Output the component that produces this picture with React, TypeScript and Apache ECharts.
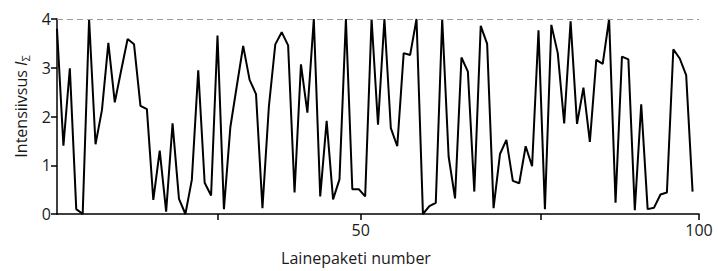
import React, { useEffect, useRef } from "react";
import * as echarts from "echarts";

// Intensity per wave packet (packet 1..100)
const intensity: number[] = [
  3.8, 1.4, 2.99, 0.1, 0.0, 4.0, 1.43, 2.13, 3.51, 2.29,
  2.95, 3.59, 3.48, 2.22, 2.15, 0.29, 1.3, 0.05, 1.86, 0.31,
  0.0, 0.7, 2.95, 0.64, 0.38, 3.66, 0.1, 1.78, 2.62, 3.45,
  2.75, 2.46, 0.12, 2.2, 3.48, 3.73, 3.46, 0.44, 3.07, 2.08,
  4.0, 0.36, 1.91, 0.3, 0.71, 4.0, 0.51, 0.51, 0.36, 4.0,
  1.83, 4.0, 1.76, 1.39, 3.3, 3.26, 4.0, 0.0, 0.16, 0.23,
  4.0, 1.18, 0.32, 3.21, 2.92, 0.46, 3.86, 3.49, 0.12, 1.23,
  1.52, 0.68, 0.63, 1.39, 0.98, 3.77, 0.1, 3.88, 3.3, 1.86,
  3.95, 1.85, 2.59, 1.48, 3.16, 3.08, 4.0, 0.23, 3.23, 3.17,
  0.08, 2.25, 0.1, 0.13, 0.4, 0.44, 3.38, 3.19, 2.85, 0.46,
];

// x-axis tick positions (axis units) and their printed labels
const xTickValues: number[] = [25, 47.3, 75.3, 100];
const xLabelValues: number[] = [47.3, 100];
const xLabelTexts: string[] = ["50", "100"];
const yTicks: number[] = [0, 1, 2, 3, 4];

const FONT = "'Open Sans', sans-serif";

export default function App() {
  const ref = useRef<HTMLDivElement>(null);
  useEffect(() => {
    if (!ref.current) return;
    document.body.style.margin = "0";
    const chart = echarts.init(ref.current, null, { renderer: "svg" });
    const data = intensity.map((v, i) => [i, v]);
    chart.setOption({
      animation: false,
      grid: { left: 57, right: 19, top: 19, bottom: 57 },
      xAxis: {
        type: "value",
        min: 0,
        max: 100,
        name: "Lainepaketi number",
        nameLocation: "middle",
        nameGap: 36,
        nameTextStyle: {
          fontFamily: FONT,
          fontSize: 16,
          color: "#1a1a1a",
          padding: [0, 44, 0, 0],
        },
        axisLine: { show: true, lineStyle: { color: "#000", width: 1.5 } },
        axisTick: {
          show: true,
          length: 6,
          customValues: xTickValues,
          lineStyle: { color: "#000", width: 1.5 },
        },
        axisLabel: {
          customValues: xLabelValues,
          margin: 8,
          fontFamily: FONT,
          fontSize: 16,
          color: "#1a1a1a",
          formatter: (v: number) => {
            const k = xLabelValues.findIndex((x) => Math.abs(x - v) < 0.01);
            return k >= 0 ? xLabelTexts[k] : "";
          },
        },
        splitLine: { show: false },
      },
      yAxis: {
        type: "value",
        min: 0,
        max: 4,
        interval: 1,
        name: "Intensiivsus {i|I}{s|Σ}",
        nameLocation: "middle",
        nameGap: 25,
        nameRotate: 90,
        nameTextStyle: {
          fontFamily: FONT,
          fontSize: 16,
          color: "#1a1a1a",
          padding: [0, 0, 0, 20],
          rich: {
            i: { fontFamily: FONT, fontSize: 16, fontStyle: "italic", color: "#1a1a1a" },
            s: { fontFamily: FONT, fontSize: 11, color: "#1a1a1a", padding: [8, 0, 0, 0] },
          },
        },
        axisLine: { show: true, lineStyle: { color: "#000", width: 1.5 } },
        axisTick: {
          show: true,
          length: 6,
          customValues: yTicks,
          lineStyle: { color: "#000", width: 1.5 },
        },
        axisLabel: { margin: 6, fontFamily: FONT, fontSize: 16, color: "#1a1a1a" },
        splitLine: { show: false },
      },
      series: [
        {
          type: "line",
          data,
          symbol: "none",
          lineStyle: { color: "#000", width: 2 },
          markLine: {
            silent: true,
            symbol: "none",
            label: { show: false },
            lineStyle: { color: "#999", type: [6, 4], width: 1 },
            data: [{ yAxis: 4 }],
          },
          z: 3,
        },
      ],
    });
    return () => chart.dispose();
  }, []);
  return (
    <div
      ref={ref}
      style={{ position: "absolute", left: 0, top: 0, width: 718, height: 271 }}
    />
  );
}
